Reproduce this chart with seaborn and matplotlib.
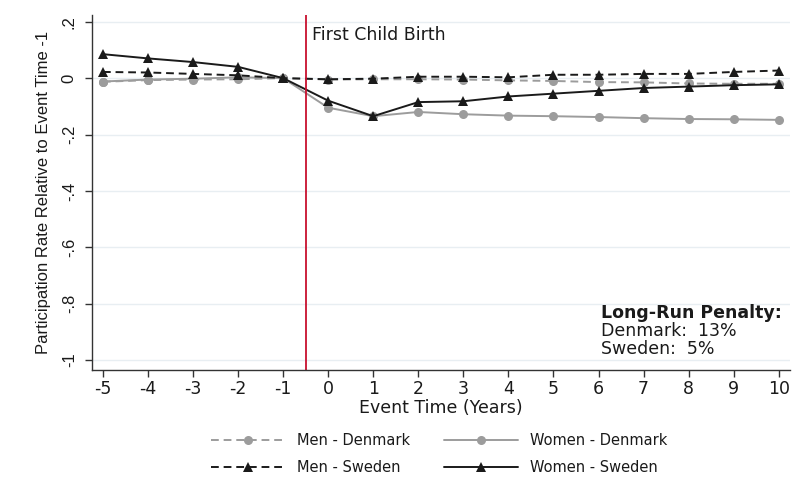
import numpy as np
import pandas as pd
import matplotlib
matplotlib.use("Agg")
import matplotlib.pyplot as plt
from matplotlib.lines import Line2D
import seaborn as sns

event_time = list(range(-5, 11))

men_denmark = [-0.013, -0.007, -0.005, -0.004, 0.0, -0.005, -0.004, -0.004, -0.005,
               -0.008, -0.010, -0.014, -0.015, -0.019, -0.020, -0.020]
women_denmark = [-0.012, -0.005, -0.002, 0.003, 0.0, -0.105, -0.135, -0.120, -0.128,
                 -0.133, -0.135, -0.138, -0.142, -0.145, -0.146, -0.148]
men_sweden = [0.022, 0.020, 0.015, 0.010, 0.0, -0.004, -0.002, 0.005, 0.005,
              0.003, 0.012, 0.012, 0.015, 0.015, 0.022, 0.027]
women_sweden = [0.085, 0.070, 0.057, 0.040, 0.0, -0.080, -0.135, -0.085, -0.082,
                -0.065, -0.055, -0.045, -0.035, -0.030, -0.025, -0.022]

series_names = ["Men - Denmark", "Women - Denmark", "Men - Sweden", "Women - Sweden"]
yticks = [-1, -0.8, -0.6, -0.4, -0.2, 0, 0.2]
ytick_labels = ["-1", "-.8", "-.6", "-.4", "-.2", "0", ".2"]

df = pd.concat([
    pd.DataFrame({"t": event_time, "v": vals, "series": name})
    for name, vals in zip(series_names, [men_denmark, women_denmark, men_sweden, women_sweden])
])

sns.set_theme(style="white")
plt.rcParams["font.family"] = ["DejaVu Sans"]
plt.rcParams["axes.unicode_minus"] = False

TXT = "#1a1a1a"
GREY = "#9c9c9c"
BLACK = "#1a1a1a"
WIDE = 12.5  # horizontal text size

fig = plt.figure(figsize=(7.94, 4.9), dpi=100)
ax = fig.add_axes([0.116, 0.245, 0.879, 0.725])

palette = {"Men - Denmark": GREY, "Women - Denmark": GREY,
           "Men - Sweden": BLACK, "Women - Sweden": BLACK}
dashes = {"Men - Denmark": (4, 2.5), "Women - Denmark": "",
          "Men - Sweden": (4, 2.5), "Women - Sweden": ""}
markers = {"Men - Denmark": "o", "Women - Denmark": "o",
           "Men - Sweden": "^", "Women - Sweden": "^"}

sns.lineplot(data=df, x="t", y="v", hue="series", style="series",
             hue_order=series_names, style_order=series_names,
             palette=palette, dashes=dashes, markers=markers,
             markersize=6.5, markeredgewidth=0, linewidth=1.4, ax=ax, legend=False)

ax.axvline(-0.5, color="#c8102e", lw=1.3)
ax.text(-0.36, 0.153, "First Child Birth", fontsize=WIDE, color=TXT, va="center")

ax.text(6.05, -0.833, "Long-Run Penalty:", fontsize=WIDE, fontweight="bold", color=TXT, va="center")
ax.text(6.05, -0.897, "Denmark:  13%", fontsize=WIDE, color=TXT, va="center")
ax.text(6.05, -0.961, "Sweden:  5%", fontsize=WIDE, color=TXT, va="center")

ax.set_xlim(-5.24, 10.25)
ax.set_ylim(-1.035, 0.225)
ax.set_xticks(event_time)
ax.set_yticks(yticks)
ax.set_yticklabels(ytick_labels, rotation=90, va="center",
                   fontfamily="Liberation Sans", fontsize=12)
ax.tick_params(axis="both", direction="out", length=5, width=1, color="#333333",
               labelcolor=TXT, left=True, bottom=True)
ax.tick_params(axis="x", labelsize=WIDE, pad=2)
ax.tick_params(axis="y", pad=6)
for yv in yticks:
    ax.axhline(yv, color="#e8eef2", lw=1, zorder=0)
for side in ["top", "right"]:
    ax.spines[side].set_visible(False)
for side in ["left", "bottom"]:
    ax.spines[side].set_color("#333333")
    ax.spines[side].set_linewidth(1)
ax.set_xlabel("Event Time (Years)", fontsize=WIDE, color=TXT, labelpad=1)
ax.set_ylabel("Participation Rate Relative to Event Time -1", fontsize=12,
              fontfamily="Liberation Sans", color=TXT, labelpad=8)

handles = [
    Line2D([], [], color=GREY, ls=(0, (4, 2.5)), marker="o", markersize=6.5, markeredgewidth=0, lw=1.4),
    Line2D([], [], color=BLACK, ls=(0, (4, 2.5)), marker="^", markersize=6.5, markeredgewidth=0, lw=1.4),
    Line2D([], [], color=GREY, ls="-", marker="o", markersize=6.5, markeredgewidth=0, lw=1.4),
    Line2D([], [], color=BLACK, ls="-", marker="^", markersize=6.5, markeredgewidth=0, lw=1.4),
]
labels = ["Men - Denmark", "Men - Sweden", "Women - Denmark", "Women - Sweden"]
fig.legend(handles, labels, ncol=2, loc="center", bbox_to_anchor=(0.553, 0.073),
           frameon=False, fontsize=10.5, handlelength=5.1, columnspacing=2.3,
           handletextpad=0.8, labelspacing=0.85, labelcolor=TXT)

fig.savefig("out.png", dpi=100)
